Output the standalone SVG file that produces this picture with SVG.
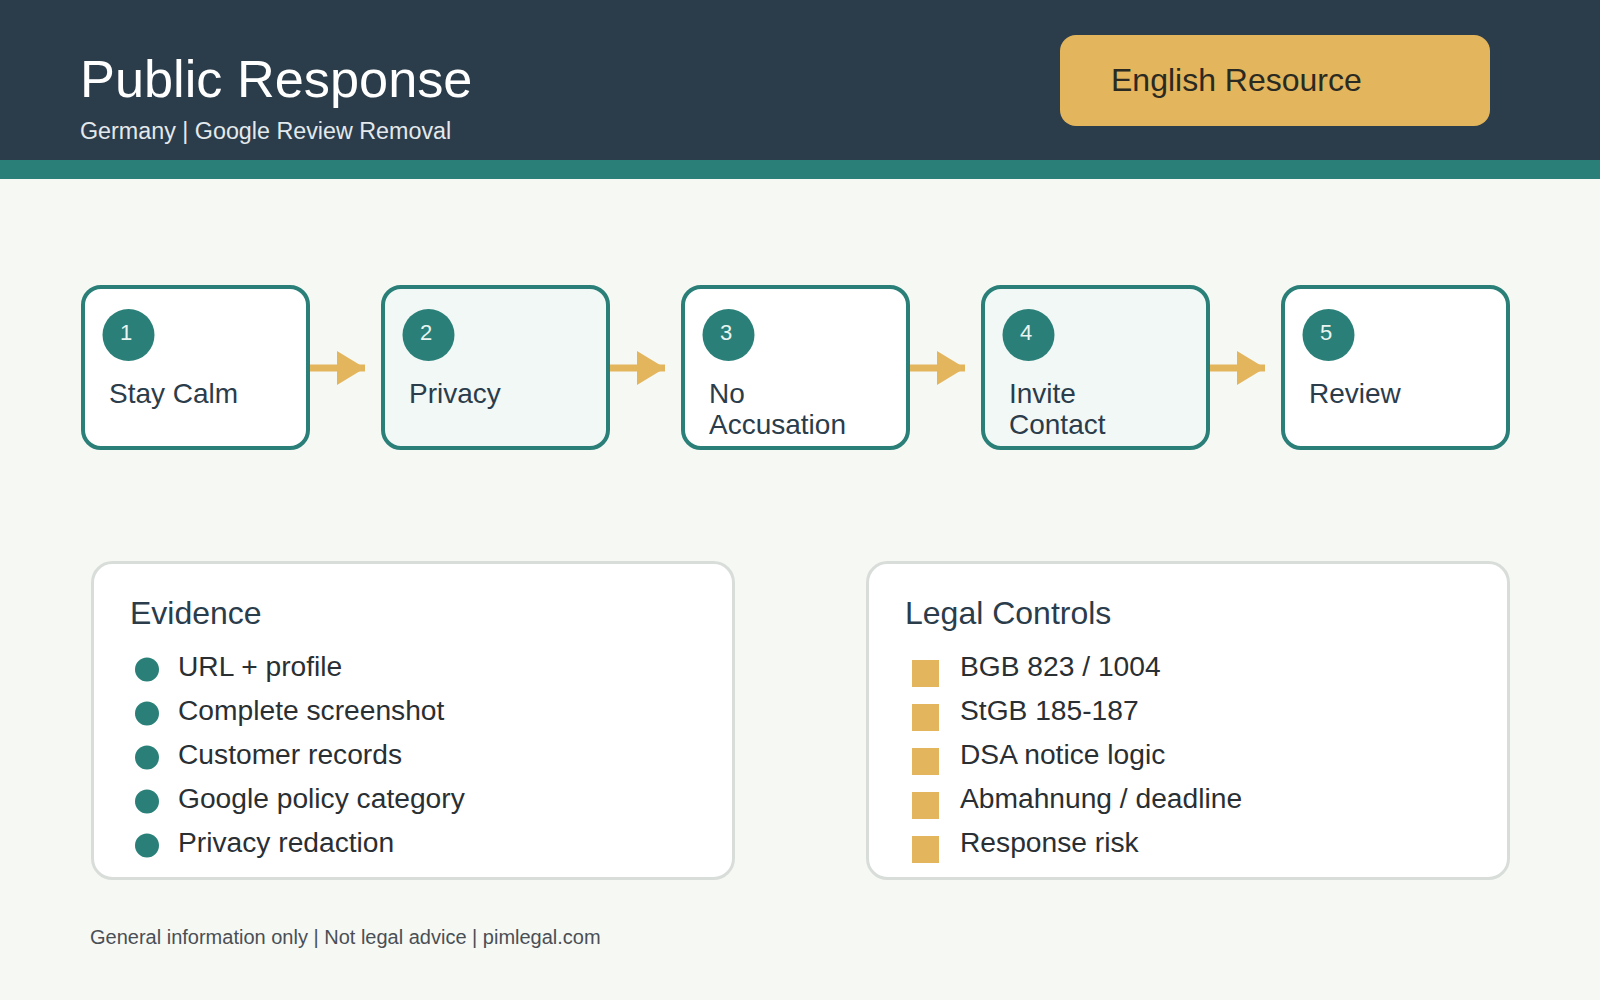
<svg xmlns="http://www.w3.org/2000/svg" width="1600" height="1000" viewBox="0 0 1600 1000">
  <defs>
    <style>
      .txt { font-family: "Liberation Sans", Arial, sans-serif; }
      .step { fill: #ffffff; stroke: #2a8078; stroke-width: 4; }
      .step.alt { fill: #f2f8f6; }
      .badge { fill: #2a8078; }
      .num { font-family: "Liberation Sans", Arial, sans-serif; font-size: 22px; fill: #e9f4f1; text-anchor: middle; }
      .label { font-family: "Liberation Sans", Arial, sans-serif; font-size: 28px; fill: #2b3c4b; }
      .panel { fill: #ffffff; stroke: #d9ddda; stroke-width: 3; }
      .ptitle { font-family: "Liberation Sans", Arial, sans-serif; font-size: 32px; fill: #2b3c4b; }
      .item { font-family: "Liberation Sans", Arial, sans-serif; font-size: 28.2px; fill: #2a2f33; }
      .dot { fill: #2a8078; }
      .sq { fill: #e3b55c; }
      .conn { stroke: #e3b55c; stroke-width: 7; fill: none; marker-end: url(#head); }
    </style>
    <marker id="head" markerUnits="userSpaceOnUse" markerWidth="28" markerHeight="34" refX="28" refY="17" viewBox="0 0 28 34" orient="auto">
      <path d="M0,0 L28,17 L0,34 z" fill="#e3b55c"/>
    </marker>
  </defs>

  <rect x="0" y="0" width="1600" height="1000" fill="#f6f8f4"/>

  <g id="header">
    <rect x="0" y="0" width="1600" height="160" fill="#2b3c4b"/>
    <rect x="0" y="160" width="1600" height="19" fill="#2a8078"/>
    <text class="txt" x="80" y="97" font-size="52.3" fill="#ffffff">Public Response</text>
    <text class="txt" x="80" y="139" font-size="23.3" fill="#e3e9ec">Germany | Google Review Removal</text>
  </g>

  <g id="badge-english">
    <rect x="1060" y="35" width="430" height="91" rx="16" fill="#e3b55c"/>
    <text class="txt" x="1111" y="91" font-size="32" fill="#2a2a22">English Resource</text>
  </g>

  <g id="connectors">
    <line class="conn" x1="310" y1="368" x2="365" y2="368"/>
    <line class="conn" x1="610" y1="368" x2="665" y2="368"/>
    <line class="conn" x1="910" y1="368" x2="965" y2="368"/>
    <line class="conn" x1="1210" y1="368" x2="1265" y2="368"/>
  </g>

  <g id="step-1">
    <rect class="step" x="83" y="287" width="225" height="161" rx="18"/>
    <circle class="badge" cx="128.5" cy="335" r="26"/>
    <text class="num" x="126" y="340">1</text>
    <text class="label" x="109" y="403">Stay Calm</text>
  </g>
  <g id="step-2">
    <rect class="step alt" x="383" y="287" width="225" height="161" rx="18"/>
    <circle class="badge" cx="428.5" cy="335" r="26"/>
    <text class="num" x="426" y="340">2</text>
    <text class="label" x="409" y="403">Privacy</text>
  </g>
  <g id="step-3">
    <rect class="step" x="683" y="287" width="225" height="161" rx="18"/>
    <circle class="badge" cx="728.5" cy="335" r="26"/>
    <text class="num" x="726" y="340">3</text>
    <text class="label" x="709" y="403">No</text>
    <text class="label" x="709" y="434">Accusation</text>
  </g>
  <g id="step-4">
    <rect class="step alt" x="983" y="287" width="225" height="161" rx="18"/>
    <circle class="badge" cx="1028.5" cy="335" r="26"/>
    <text class="num" x="1026" y="340">4</text>
    <text class="label" x="1009" y="403">Invite</text>
    <text class="label" x="1009" y="434">Contact</text>
  </g>
  <g id="step-5">
    <rect class="step" x="1283" y="287" width="225" height="161" rx="18"/>
    <circle class="badge" cx="1328.5" cy="335" r="26"/>
    <text class="num" x="1326" y="340">5</text>
    <text class="label" x="1309" y="403">Review</text>
  </g>

  <g id="panel-evidence">
    <rect class="panel" x="92.5" y="562.5" width="641" height="316" rx="20"/>
    <text class="ptitle" x="130" y="624">Evidence</text>
    <circle class="dot" cx="147" cy="669.5" r="12"/>
    <text class="item" x="178" y="675.5">URL + profile</text>
    <circle class="dot" cx="147" cy="713.5" r="12"/>
    <text class="item" x="178" y="719.5">Complete screenshot</text>
    <circle class="dot" cx="147" cy="757.5" r="12"/>
    <text class="item" x="178" y="763.5">Customer records</text>
    <circle class="dot" cx="147" cy="801.5" r="12"/>
    <text class="item" x="178" y="807.5">Google policy category</text>
    <circle class="dot" cx="147" cy="845.5" r="12"/>
    <text class="item" x="178" y="851.5">Privacy redaction</text>
  </g>

  <g id="panel-legal">
    <rect class="panel" x="867.5" y="562.5" width="641" height="316" rx="20"/>
    <text class="ptitle" x="905" y="624">Legal Controls</text>
    <rect class="sq" x="912" y="660" width="27" height="27"/>
    <text class="item" x="960" y="675.5">BGB 823 / 1004</text>
    <rect class="sq" x="912" y="704" width="27" height="27"/>
    <text class="item" x="960" y="719.5">StGB 185-187</text>
    <rect class="sq" x="912" y="748" width="27" height="27"/>
    <text class="item" x="960" y="763.5">DSA notice logic</text>
    <rect class="sq" x="912" y="792" width="27" height="27"/>
    <text class="item" x="960" y="807.5">Abmahnung / deadline</text>
    <rect class="sq" x="912" y="836" width="27" height="27"/>
    <text class="item" x="960" y="851.5">Response risk</text>
  </g>

  <g id="footer">
    <text class="txt" x="90" y="944" font-size="20" fill="#4a4f55">General information only | Not legal advice | pimlegal.com</text>
  </g>
</svg>
